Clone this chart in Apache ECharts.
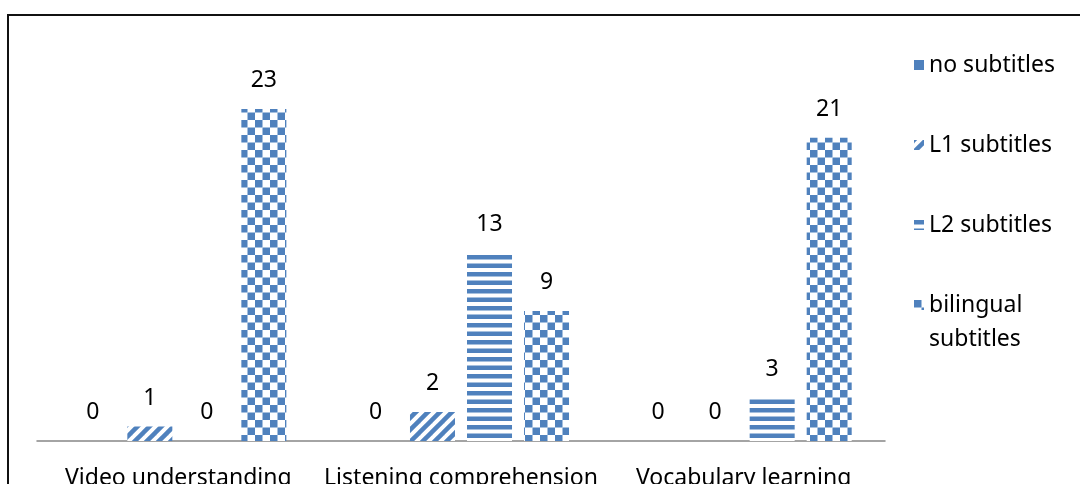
<!DOCTYPE html>
<html>
<head>
<meta charset="utf-8">
<script src="https://cdn.jsdelivr.net/npm/echarts@6/dist/echarts.min.js"></script>
<style>
  html, body { margin: 0; padding: 0; background: #fff; }
  #chart { width: 1080px; height: 484px; }
</style>
</head>
<body>
<div id="chart"></div>
<script>
// Chart data
const categories = ['Video understanding', 'Listening comprehension', 'Vocabulary learning'];
const seriesNames = ['no subtitles', 'L1 subtitles', 'L2 subtitles', 'bilingual subtitles'];
const noSubtitles = [0, 0, 0];
const l1Subtitles = [1, 2, 0];
const l2Subtitles = [0, 13, 3];
const bilingualSubtitles = [23, 9, 21];

const BLUE = '#4F81BD';
const FONT = '"Noto Sans", "DejaVu Sans", sans-serif';
const FONT_SIZE = 23;

// Fill patterns for the bars
function makeTile(w, h, draw) {
  const c = document.createElement('canvas');
  c.width = w; c.height = h;
  const ctx = c.getContext('2d');
  ctx.fillStyle = '#fff';
  ctx.fillRect(0, 0, w, h);
  ctx.fillStyle = BLUE;
  ctx.strokeStyle = BLUE;
  draw(ctx, w, h);
  return { image: c, repeat: 'repeat' };
}

const diagonal = makeTile(12, 12, (ctx, w, h) => {
  ctx.lineWidth = 4.5;
  for (let k = -1; k <= 1; k++) {
    ctx.beginPath();
    ctx.moveTo(k * w - 2, h + 2);
    ctx.lineTo(k * w + w + 2, -2);
    ctx.stroke();
  }
});

const horizontal = makeTile(8, 17, (ctx) => {
  ctx.fillRect(0, 0, 8, 4.5);
  ctx.fillRect(0, 8.5, 8, 4.5);
});

const checker = makeTile(15, 15, (ctx) => {
  ctx.fillRect(0, 0, 7.5, 7.5);
  ctx.fillRect(7.5, 7.5, 7.5, 7.5);
});

const fills = [BLUE, diagonal, horizontal, checker];
const values = [noSubtitles, l1Subtitles, l2Subtitles, bilingualSubtitles];

const legendText = { color: '#000', fontFamily: FONT, fontSize: FONT_SIZE, lineHeight: 34 };
const legendBase = {
  orient: 'vertical',
  left: 909,
  icon: 'rect',
  itemWidth: 10,
  itemHeight: 10,
  itemGap: 46,
  textStyle: legendText
};

const chart = echarts.init(document.getElementById('chart'), null, { renderer: 'canvas' });

chart.setOption({
  animation: false,
  backgroundColor: '#fff',
  grid: { left: 37, right: 195, top: 80, bottom: 43, outerBoundsMode: 'none', containLabel: false },
  xAxis: {
    type: 'category',
    data: categories,
    axisLine: { lineStyle: { color: '#868686', width: 1.5 } },
    axisTick: { show: false },
    axisLabel: { color: '#000', fontFamily: FONT, fontSize: FONT_SIZE, margin: 26, interval: 0 }
  },
  yAxis: {
    type: 'value',
    min: 0,
    max: 25,
    show: false,
    splitLine: { show: false }
  },
  legend: [
    Object.assign({}, legendBase, {
      top: 43,
      data: seriesNames.slice(0, 3)
    }),
    // two-line entry: a blank first line keeps "bilingual" level with its icon
    Object.assign({}, legendBase, {
      top: 249,
      data: [seriesNames[3]],
      formatter: () => ' \nbilingual\nsubtitles'
    })
  ],
  graphic: [{
    type: 'rect',
    shape: { x: 8, y: 15, width: 1100, height: 520 },
    style: { fill: 'none', stroke: '#111', lineWidth: 2 },
    silent: true,
    z: 100
  }],
  series: seriesNames.map((name, i) => ({
    name,
    type: 'bar',
    data: values[i],
    barWidth: 45,
    barGap: '26.7%',
    itemStyle: { color: fills[i] },
    label: {
      show: true,
      position: 'top',
      distance: 17,
      color: '#000',
      fontFamily: FONT,
      fontSize: FONT_SIZE
    }
  }))
});
</script>
</body>
</html>
